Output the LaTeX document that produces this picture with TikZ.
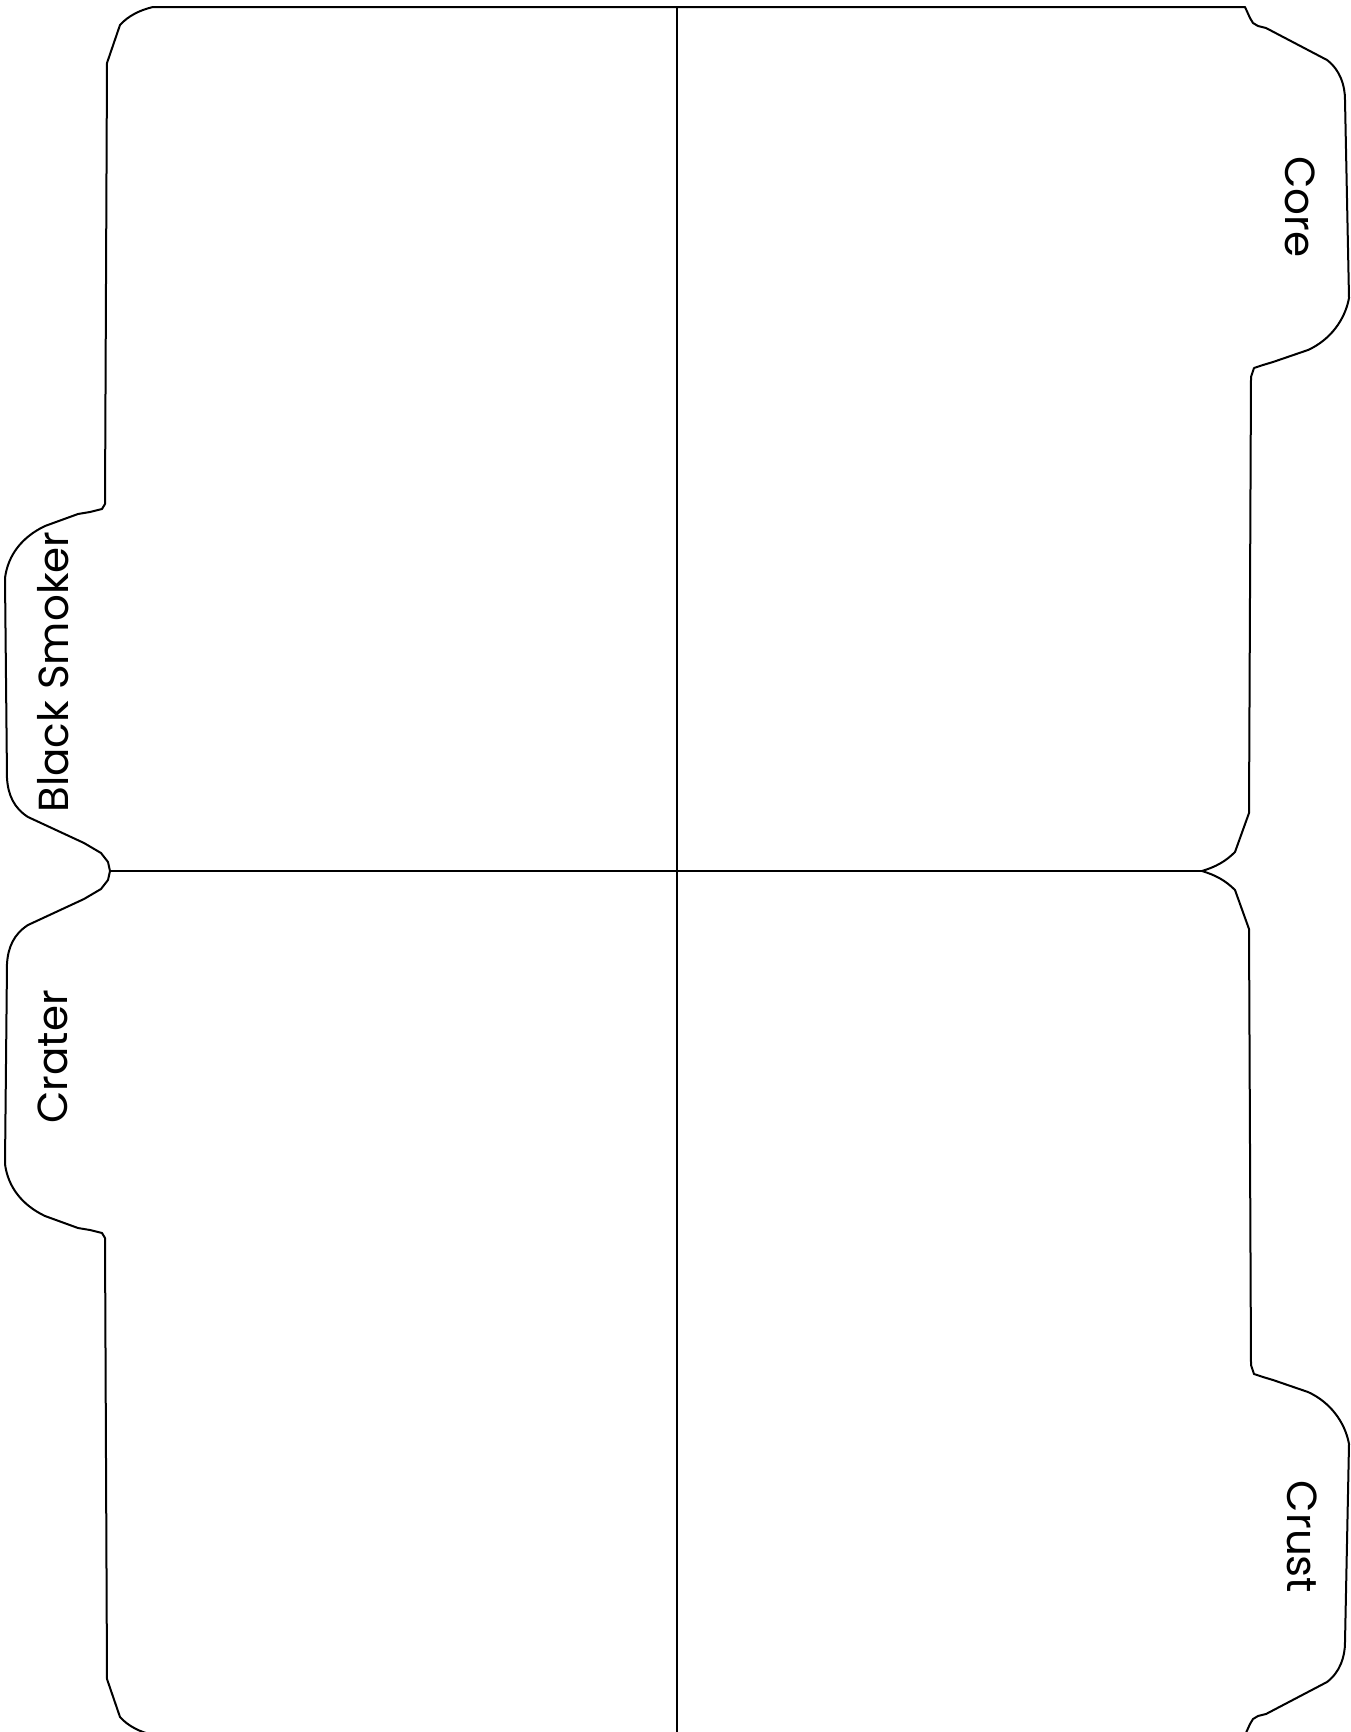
\documentclass[tikz,border=0pt]{standalone}
\usepackage{fontspec}
\setmainfont{Poppins}
\begin{document}
\begin{tikzpicture}[x=1pt,y=-1pt,
  outline/.style={line width=2pt, line join=round, black},
  divider/.style={line width=2pt, black},
  tablabel/.style={font=\fontsize{42}{50}\selectfont, inner sep=0pt, anchor=center}]
\useasboundingbox (0,0) rectangle (1351,1732);
\clip (0,0) rectangle (1351,1732);
\foreach \sc/\sh in {1/0,-1/1742}{
  \begin{scope}[shift={(0,\sh)}, yscale=\sc]
    \draw[outline] (110,871) -- (108,862) -- (101,853) -- (84,843) -- (28,817)
      .. controls (14,808) and (8,795) .. (7,778) -- (5,578)
      .. controls (8,555) and (22,537) .. (45,526) -- (78,514) -- (90,512) -- (102,509) -- (105,504)
      -- (107,63) -- (120,25) .. controls (128,16) and (140,10) .. (153,7)
      -- (1245,7) -- (1250,18) -- (1253,23) -- (1258,26) -- (1266,28) -- (1327,60)
      .. controls (1340,70) and (1345,85) .. (1345,100) -- (1349,298)
      .. controls (1345,320) and (1330,340) .. (1308,350) -- (1273,362) -- (1263,365) -- (1254,368) -- (1251,377)
      -- (1249,813) -- (1235,852) .. controls (1225,862) and (1215,867) .. (1202,871);
  \end{scope}
}
\coordinate (jl) at (110,871);
\coordinate (jr) at (1202,871);
\coordinate (vt) at (677,7);
\coordinate (vb) at (677,1742);
\draw[divider] (jl) -- (jr);
\draw[divider] (vt) -- (vb);
\node[tablabel, rotate=-90] (core) at (1300,207) {Core};
\node[tablabel, rotate=-90] (crust) at (1302,1537) {Crust};
\node[tablabel, rotate=90] (smoker) at (53,672) {Black Smoker};
\node[tablabel, rotate=90] (crater) at (53,1057) {Crater};
\end{tikzpicture}
\end{document}
